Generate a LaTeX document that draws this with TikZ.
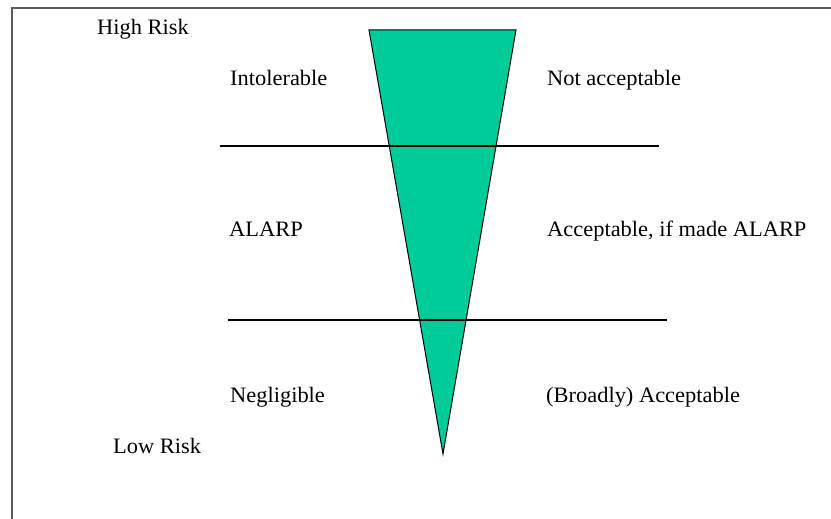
\documentclass[tikz,border=0pt]{standalone}
\usepackage{fontspec}
\setmainfont{Liberation Serif}
\definecolor{riskgreen}{RGB}{0,204,153}
\definecolor{framegray}{RGB}{90,90,90}
\begin{document}
\begin{tikzpicture}[x=1pt,y=-1pt,
  lbl/.style={anchor=base west,inner sep=0pt,font=\fontsize{22}{24}\selectfont},
  divider/.style={draw=black,line width=1.2pt},
  frameline/.style={draw=framegray,line width=2pt}]
\useasboundingbox (0,0) rectangle (831,519);
% frame (left and top edges visible)
\draw[frameline] (12,519) -- (12,8) -- (831,8);
% wedge
\coordinate (tl) at (369,30);
\coordinate (tr) at (516,30);
\coordinate (apex) at (443,454);
\filldraw[fill=riskgreen,draw=black,line width=1pt,line join=miter] (tl) -- (tr) -- (apex) -- cycle;
% dividing lines
\coordinate (l1a) at (220,146);
\coordinate (l1b) at (659,146);
\coordinate (l2a) at (228,320);
\coordinate (l2b) at (667,320);
\draw[divider] (l1a) -- (l1b);
\draw[divider] (l2a) -- (l2b);
% labels
\node[lbl] (high) at (97,35) {\scalebox{1.02}[1]{High Risk}};
\node[lbl] (intol) at (230,85) {\scalebox{1.02}[1]{Intolerable}};
\node[lbl] (notacc) at (547,85) {\scalebox{1.02}[1]{Not acceptable}};
\node[lbl] (alarp) at (229,236) {\scalebox{1.02}[1]{ALARP}};
\node[lbl] (accalarp) at (547,236) {\scalebox{1.02}[1]{Acceptable, if made ALARP}};
\node[lbl] (negl) at (230,402) {\scalebox{1.02}[1]{Negligible}};
\node[lbl] (broad) at (546,402) {\scalebox{1.02}[1]{(Broadly) Acceptable}};
\node[lbl] (low) at (113,453) {\scalebox{1.02}[1]{Low Risk}};
\end{tikzpicture}
\end{document}
